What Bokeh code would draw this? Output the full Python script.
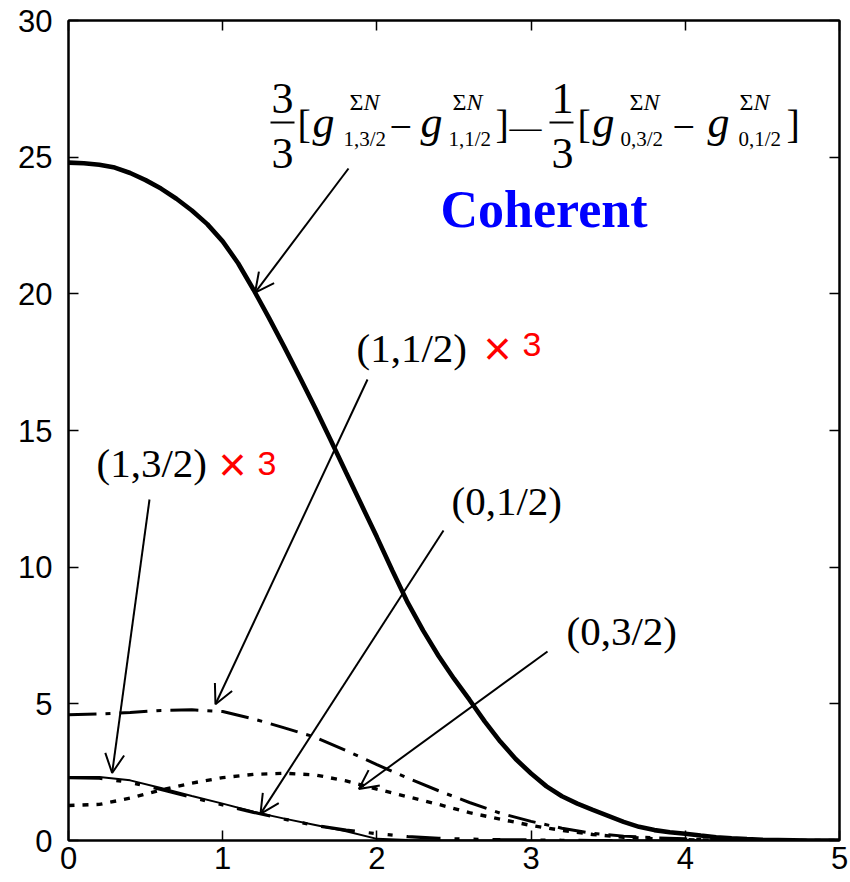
import numpy as np
from bokeh.plotting import figure
from bokeh.models import Range1d, FixedTicker, LinearAxis, Arrow, OpenHead, Label
from bokeh.embed import file_html
from bokeh.resources import INLINE

# ---- data -------------------------------------------------------------
r = [0.0, 0.2, 0.4, 0.6, 0.8, 1.0, 1.2, 1.4, 1.6, 1.8, 2.0, 2.2, 2.4,
     2.6, 2.8, 3.0, 3.2, 3.4, 3.6, 3.8, 4.0, 4.2, 4.4, 4.6, 4.8, 5.0]

# coherent combination, sampled more finely
r_fine = [0.0, 0.1, 0.2, 0.3, 0.4, 0.5, 0.6, 0.7, 0.8, 0.9, 1.0, 1.1, 1.2,
          1.3, 1.4, 1.5, 1.6, 1.7, 1.8, 1.9, 2.0, 2.1, 2.2, 2.3, 2.4, 2.5,
          2.6, 2.7, 2.8, 2.9, 3.0, 3.1, 3.2, 3.3, 3.4, 3.5, 3.6, 3.7, 3.8,
          3.9, 4.0, 4.1, 4.2, 4.3, 4.4, 4.5, 4.6, 4.7, 4.8, 4.9, 5.0]
coherent = [24.80, 24.78, 24.72, 24.62, 24.42, 24.16, 23.85, 23.48, 23.05,
            22.55, 21.92, 21.12, 20.15, 19.12, 18.05, 16.95, 15.82, 14.65,
            13.46, 12.28, 11.10, 9.88, 8.70, 7.68, 6.75, 5.92, 5.15, 4.35,
            3.62, 2.98, 2.45, 1.98, 1.62, 1.35, 1.12, 0.90, 0.68, 0.50,
            0.38, 0.30, 0.25, 0.18, 0.12, 0.08, 0.05, 0.03, 0.02, 0.01,
            0.00, 0.00, 0.00]

g_1_3half_x3 = [2.32, 2.32, 2.20, 1.92, 1.63, 1.35, 1.05, 0.80, 0.57, 0.34,
                0.06, 0.02, 0.00, 0.00, 0.00, 0.00, 0.00, 0.00, 0.00, 0.00,
                0.00, 0.00, 0.00, 0.00, 0.00, 0.00]

g_1_half_x3 = [4.60, 4.63, 4.68, 4.76, 4.78, 4.72, 4.45, 4.12, 3.78, 3.29,
               2.78, 2.28, 1.82, 1.39, 1.00, 0.70, 0.45, 0.26, 0.16, 0.10,
               0.06, 0.03, 0.01, 0.00, 0.00, 0.00]

g_0_half = [2.30, 2.28, 2.12, 1.87, 1.58, 1.30, 1.03, 0.78, 0.55, 0.38,
            0.25, 0.14, 0.08, 0.05, 0.03, 0.02, 0.01, 0.00, 0.00, 0.00,
            0.00, 0.00, 0.00, 0.00, 0.00, 0.00]

g_0_3half = [1.28, 1.32, 1.55, 1.85, 2.10, 2.30, 2.42, 2.46, 2.40, 2.18,
             1.88, 1.60, 1.32, 1.02, 0.78, 0.55, 0.37, 0.22, 0.12, 0.06,
             0.03, 0.01, 0.00, 0.00, 0.00, 0.00]

x_ticks = [0, 1, 2, 3, 4, 5]
y_ticks = [0, 5, 10, 15, 20, 25, 30]

# ---- figure -----------------------------------------------------------
XMIN, XMAX, YMIN, YMAX = 0, 5, 0, 30
FL, FT, FW, FH = 68, 20, 771, 820

p = figure(frame_width=FW, frame_height=FH,
           x_range=Range1d(XMIN, XMAX), y_range=Range1d(YMIN, YMAX),
           output_backend="svg", toolbar_location=None,
           min_border_left=FL, min_border_right=11,
           min_border_top=FT, min_border_bottom=40)
p.xgrid.visible = False
p.ygrid.visible = False
p.outline_line_color = "black"
p.outline_line_width = 2
p.background_fill_color = "white"
p.border_fill_color = "white"


def style_axis(ax, ticks, show_labels=True):
    ax.ticker = FixedTicker(ticks=ticks)
    ax.major_tick_in = 10
    ax.major_tick_out = 0
    ax.major_tick_line_width = 1.5
    ax.major_tick_line_color = "black"
    ax.minor_tick_line_color = None
    ax.axis_line_width = 2
    ax.axis_line_color = "black"
    if show_labels:
        ax.major_label_text_font = "Liberation Sans"
        ax.major_label_text_font_size = "31px"
        ax.major_label_text_color = "black"
    else:
        # mirrored axis: ticks only, no labels drawn
        ax.major_label_text_color = None
        ax.major_label_text_font_size = "1px"
        ax.major_label_standoff = 0


style_axis(p.xaxis[0], x_ticks)
style_axis(p.yaxis[0], y_ticks)
p.yaxis[0].major_label_standoff = 16
p.xaxis[0].major_label_standoff = 6

right_ax = LinearAxis()
style_axis(right_ax, y_ticks, show_labels=False)
p.add_layout(right_ax, "right")
top_ax = LinearAxis()
style_axis(top_ax, x_ticks, show_labels=False)
p.add_layout(top_ax, "above")

# ---- curves -----------------------------------------------------------
p.line(r, g_0_3half, line_color="black", line_width=3.4, line_dash="6 8")
p.line(r, g_0_half, line_color="black", line_width=3.2,
       line_dash="34 14 5 14 5 14")
p.line(r, g_1_half_x3, line_color="black", line_width=3, line_dash="28 9 5 9")
p.line(r, g_1_3half_x3, line_color="black", line_width=2)
p.line(r_fine, coherent, line_color="black", line_width=4.6)


# ---- annotation helpers (pixel offsets inside the frame -> data) -------
def fx(px):
    return XMIN + (px - FL) * (XMAX - XMIN) / FW


def fy(py):
    return YMAX - (py - FT) * (YMAX - YMIN) / FH


def put(text, px, py, size, font="Liberation Serif", style="normal",
        color="black"):
    # py is the wanted baseline; the svg text sits about a third of an em low
    p.add_layout(Label(x=fx(px), y=fy(py - 0.34 * size), text=text,
                       text_font=font, text_font_size=f"{size}px",
                       text_font_style=style, text_color=color,
                       text_align="left", text_baseline="alphabetic"))


def bar(px0, px1, py):
    p.segment(x0=[fx(px0)], y0=[fy(py)], x1=[fx(px1)], y1=[fy(py)],
              line_color="black", line_width=2)


def pointer(px, py, xs, curve, xt, dy=0.0):
    tip_y = float(np.interp(xt, xs, curve)) + dy
    p.add_layout(Arrow(end=OpenHead(size=19, line_width=2, line_color="black"),
                       x_start=fx(px), y_start=fy(py), x_end=xt, y_end=tip_y,
                       line_width=2, line_color="black"))


# formula: 3/3[g13/2 - g11/2] - 1/3[g03/2 - g01/2]
put("3", 271, 113, 44)
bar(270, 294, 122)
put("3", 271, 168, 44)
put("[", 297, 138, 40)
put("g", 312, 137, 44, style="italic")
put("Σ", 349, 110, 24)
put("N", 363, 110, 24, style="italic")
put("1,3/2", 343, 146, 21)
put("−", 389, 140, 40)
put("g", 420, 137, 44, style="italic")
put("Σ", 452, 110, 24)
put("N", 466, 110, 24, style="italic")
put("1,1/2", 448, 146, 21)
put("]", 495, 138, 40)
put("—", 509, 137, 32)
put("1", 551, 113, 44)
bar(549, 573, 122)
put("3", 551, 168, 44)
put("[", 577, 138, 40)
put("g", 592, 137, 44, style="italic")
put("Σ", 629, 110, 24)
put("N", 643, 110, 24, style="italic")
put("0,3/2", 620, 146, 21)
put("−", 672, 140, 40)
put("g", 707, 137, 44, style="italic")
put("Σ", 739, 110, 24)
put("N", 753, 110, 24, style="italic")
put("0,1/2", 738, 146, 21)
put("]", 786, 138, 40)

put("Coherent", 440, 227, 52, style="bold", color="#0000ff")

put("(1,3/2)", 96, 476, 41)
put("×", 218, 480, 48, font="Liberation Sans", color="#ff0000")
put("3", 257, 475, 34, font="Liberation Sans", color="#ff0000")

put("(1,1/2)", 356, 361, 41)
put("×", 483, 364, 48, font="Liberation Sans", color="#ff0000")
put("3", 522, 356, 34, font="Liberation Sans", color="#ff0000")

put("(0,1/2)", 451, 514, 41)
put("(0,3/2)", 566, 644, 41)

pointer(348, 168, r_fine, coherent, 1.21)
pointer(367, 379, r, g_1_half_x3, 0.953, 0.25)
pointer(149, 499, r, g_1_3half_x3, 0.283, 0.2)
pointer(443, 530, r, g_0_half, 1.245)
pointer(547, 651, r, g_0_3half, 1.883, -0.17)

open("out.html", "w").write(file_html(p, INLINE))
